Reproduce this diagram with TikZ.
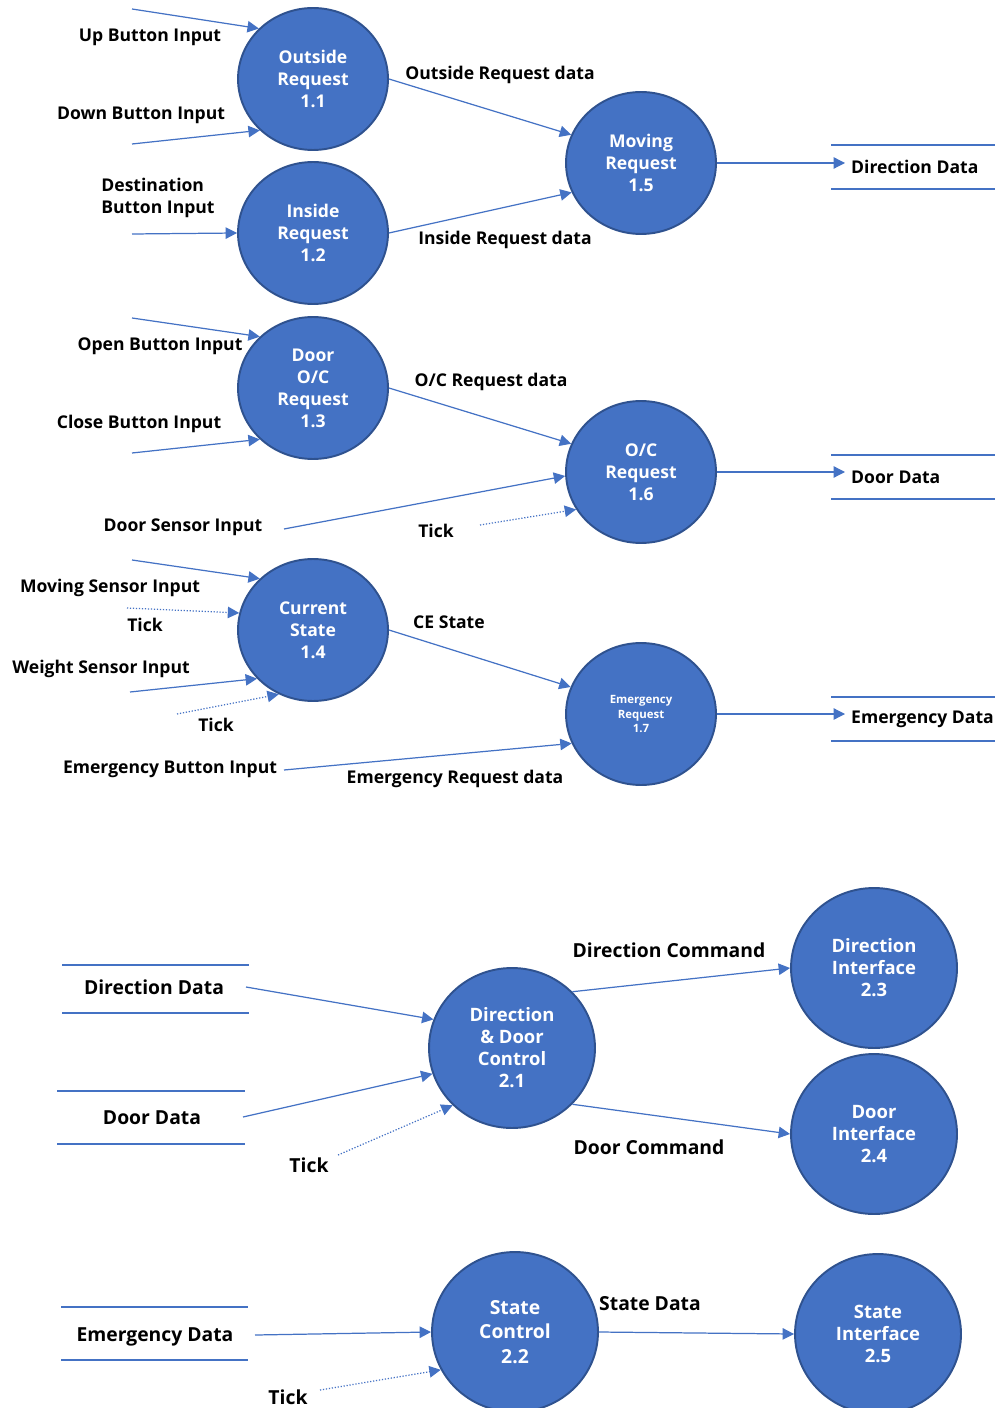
\documentclass[tikz,border=0pt]{standalone}
\usepackage{fontspec}
\setmainfont{Open Sans}
\usetikzlibrary{arrows.meta,shapes.geometric}
\definecolor{procblue}{RGB}{68,114,196}
\definecolor{procedge}{RGB}{47,82,143}

\begin{document}
\begin{tikzpicture}[x=0.02cm, y=-0.02cm,
  every node/.style={font=\bfseries\fontsize{10}{12.5}\selectfont},
  proc/.style={ellipse, draw=procedge, line width=1.1pt, fill=procblue, text=white,
    align=center, minimum width=3cm, minimum height=2.84cm, inner sep=0pt},
  bigproc/.style={proc, minimum width=3.32cm, minimum height=3.2cm,
    font=\bfseries\fontsize{10.5}{12.5}\selectfont},
  biglbl/.style={font=\bfseries\fontsize{11}{13}\selectfont},
  flow/.style={draw=procblue, line width=0.7pt, -{Triangle[length=6.5pt,width=6.5pt]}},
  tickflow/.style={flow, densely dotted},
  store/.style={draw=procblue, line width=1.6pt}]
\useasboundingbox (0,0) rectangle (995,1408);

% level 1 processes
\node[proc] (oreq) at (313,79) {Outside\\Request\\1.1};
\node[proc] (ireq) at (313,233) {Inside\\Request\\1.2};
\node[proc] (mreq) at (641,163) {Moving\\Request\\1.5};
\node[proc] (dreq) at (313,388) {Door\\O/C\\Request\\1.3};
\node[proc] (ocreq) at (641,472) {O/C\\Request\\1.6};
\node[proc] (cstate) at (313,630) {Current\\State\\1.4};
\node[proc, font=\bfseries\fontsize{6.5}{8}\selectfont] (ereq) at (641,714) {Emergency\\Request\\1.7};

% outside / inside requests
\coordinate (upin) at (132,9);
\coordinate (downin) at (132,144);
\coordinate (destin) at (132,234);
\node (uplbl) at (150,37) {Up Button Input};
\node (downlbl) at (141,115) {Down Button Input};
\node[align=left] (destlbl) at (158,198) {Destination\\Button Input};
\draw[flow] (upin) -- (oreq.137);
\draw[flow] (downin) -- (oreq.224);
\draw[flow] (destin) -- (ireq.west);
\node (ordlbl) at (500,75) {Outside Request data};
\node (irdlbl) at (505,240) {Inside Request data};
\draw[flow] (oreq.east) -- (mreq.158);
\draw[flow] (ireq.east) -- (mreq.203);

% door requests
\coordinate (openin) at (132,318);
\coordinate (closein) at (132,453);
\coordinate (dsensin) at (284,529);
\coordinate (tickc) at (480,525);
\node (openlbl) at (160,346) {Open Button Input};
\node (closelbl) at (139,424) {Close Button Input};
\node (dsenslbl) at (183,527) {Door Sensor Input};
\node (ticklblc) at (436,531) {Tick};
\node (ocdlbl) at (491,382) {O/C Request data};
\draw[flow] (openin) -- (dreq.136);
\draw[flow] (closein) -- (dreq.224);
\draw[flow] (dreq.east) -- (ocreq.158);
\draw[flow] (dsensin) -- (ocreq.183);
\draw[tickflow] (tickc) -- (ocreq.210);

% current state / emergency
\coordinate (movin) at (132,560);
\coordinate (ticka) at (127,608);
\coordinate (weightin) at (130,692);
\coordinate (tickb) at (177,714);
\coordinate (ebtnin) at (284,770);
\node (movlbl) at (110,588) {Moving Sensor Input};
\node (ticklbla) at (145,625) {Tick};
\node (weightlbl) at (101,669) {Weight Sensor Input};
\node (ticklblb) at (216,725) {Tick};
\node (ebtnlbl) at (170,769) {Emergency Button Input};
\node (celbl) at (449,622) {CE State};
\node (erdlbl) at (455,779) {Emergency Request data};
\draw[flow] (movin) -- (cstate.136);
\draw[tickflow] (ticka) -- (cstate.167);
\draw[flow] (weightin) -- (cstate.221);
\draw[tickflow] (tickb) -- (cstate.242);
\draw[flow] (cstate.east) -- (ereq.159);
\draw[flow] (ebtnin) -- (ereq.203);

% level 1 data stores
\foreach \nm/\src/\y/\txt in {dds/mreq/166/Direction Data, ods/ocreq/476/Door Data, eds/ereq/718/Emergency Data} {
  \node[anchor=west] (\nm) at (845,\y+1) {\txt};
  \draw[store] (831,\y-21) -- (995,\y-21);
  \draw[store] (831,\y+23) -- (995,\y+23);
  \draw[flow] (\src.east) -- (\src.east -| \nm.west);
}

% level 2 processes
\node[bigproc] (ddctl) at (512,1048) {Direction\\\& Door\\Control\\2.1};
\node[bigproc] (dirif) at (874,968) {Direction\\Interface\\2.3};
\node[bigproc] (doorif) at (874,1134) {Door\\Interface\\2.4};
\node[bigproc, font=\bfseries\fontsize{11}{14}\selectfont] (sctl) at (515,1332) {State\\Control\\2.2};
\node[bigproc] (sif) at (878,1334) {State\\Interface\\2.5};

% level 2 data stores
\node[biglbl] (dds2) at (154,987) {Direction Data};
\draw[store] (62,965) -- (249,965);
\draw[store] (62,1013) -- (249,1013);
\node[biglbl] (ods2) at (152,1118) {Door Data};
\draw[store] (57,1091) -- (245,1091);
\draw[store] (57,1144) -- (245,1144);
\node[biglbl] (eds2) at (155,1337) {Emergency Data};
\draw[store] (61,1307) -- (248,1307);
\draw[store] (61,1360) -- (248,1360);

\coordinate (ddsout) at (246,987);
\coordinate (odsout) at (243,1117);
\coordinate (tickd) at (338,1155);
\coordinate (edsout) at (255,1335);
\coordinate (ticke) at (320,1390);
\node[biglbl] (ticklbld) at (309,1165) {Tick};
\node[biglbl] (ticklble) at (288,1397) {Tick};
\node[biglbl] (dcmdlbl) at (669,950) {Direction Command};
\node[biglbl] (ocmdlbl) at (649,1147) {Door Command};
\node[biglbl] (sdlbl) at (650,1304) {State Data};
\draw[flow] (ddsout) -- (ddctl.160);
\draw[flow] (odsout) -- (ddctl.198);
\draw[tickflow] (tickd) -- (ddctl.224);
\draw[flow] (ddctl.43) -- (dirif.west);
\draw[flow] (ddctl.317) -- (doorif.west);
\draw[flow] (edsout) -- (sctl.west);
\draw[tickflow] (ticke) -- (sctl.207);
\draw[flow] (sctl.east) -- (sif.west);
\end{tikzpicture}
\end{document}
